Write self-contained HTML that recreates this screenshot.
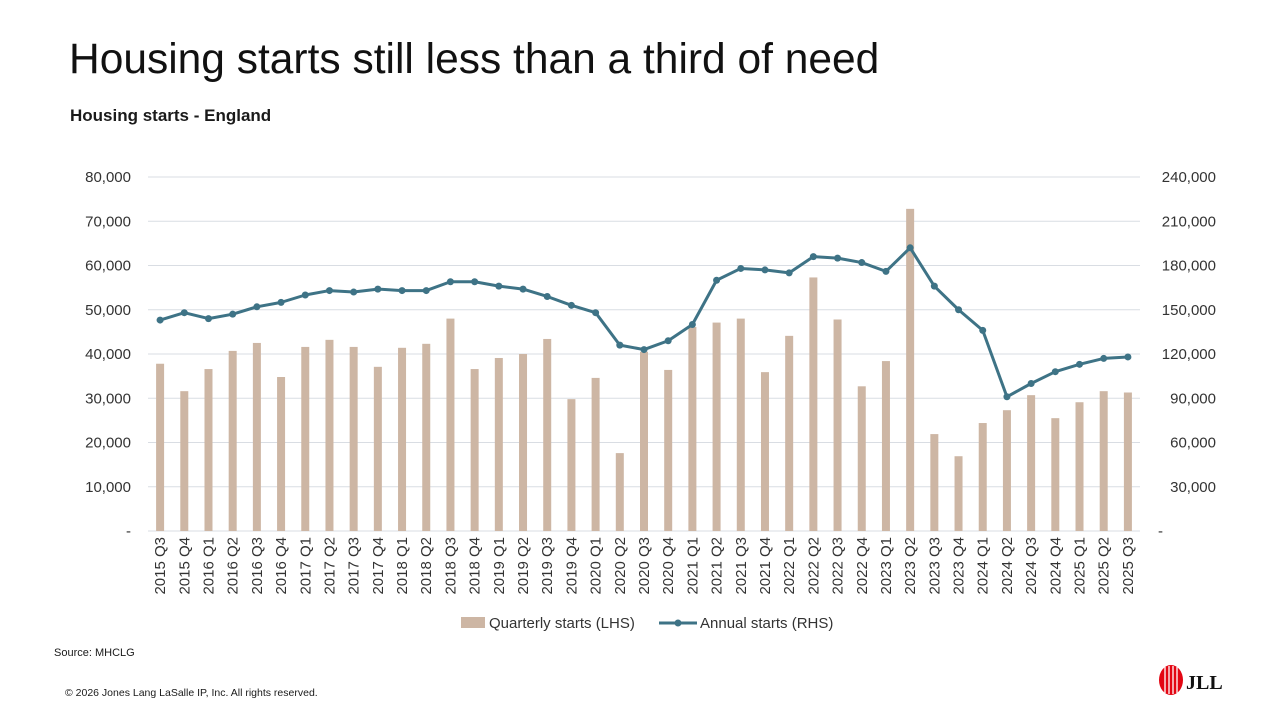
<!DOCTYPE html>
<html><head><meta charset="utf-8"><style>
body{margin:0;width:1280px;height:720px;background:#fff;font-family:"Liberation Sans",Arial,sans-serif;overflow:hidden;position:relative}
.t{position:absolute;color:#1a1a1a}
</style></head><body>
<div class="t" style="left:69px;top:36px;font-size:42.5px;color:#111">Housing starts still less than a third of need</div>
<div class="t" style="left:70px;top:106px;font-size:17px;font-weight:bold">Housing starts - England</div>
<div class="t" style="left:54px;top:647px;font-size:11px">Source: MHCLG</div>
<div class="t" style="left:65px;top:687px;font-size:10.5px">© 2026 Jones Lang LaSalle IP, Inc. All rights reserved.</div>
<div style="position:absolute;left:1156px;top:664px;width:70px;height:32px">
<svg width="70" height="32"><ellipse cx="15" cy="16" rx="12" ry="15" fill="#e30613"/><g stroke="#fff" stroke-width="1.3" fill="none"><path d="M9 3 V29"/><path d="M13 2 V30"/><path d="M17 2 V30"/><path d="M21 3 V29"/></g><text x="30" y="25" font-family="Liberation Serif,serif" font-weight="bold" font-size="20" fill="#111">JLL</text></svg></div>
<svg id="chart" width="1280" height="720" style="position:absolute;left:0;top:0"></svg>
<script>
const categories=["2015 Q3","2015 Q4","2016 Q1","2016 Q2","2016 Q3","2016 Q4","2017 Q1","2017 Q2","2017 Q3","2017 Q4","2018 Q1","2018 Q2","2018 Q3","2018 Q4","2019 Q1","2019 Q2","2019 Q3","2019 Q4","2020 Q1","2020 Q2","2020 Q3","2020 Q4","2021 Q1","2021 Q2","2021 Q3","2021 Q4","2022 Q1","2022 Q2","2022 Q3","2022 Q4","2023 Q1","2023 Q2","2023 Q3","2023 Q4","2024 Q1","2024 Q2","2024 Q3","2024 Q4","2025 Q1","2025 Q2","2025 Q3"];
const quarterly=[37800,31600,36600,40700,42500,34800,41600,43200,41600,37100,41400,42300,48000,36600,39100,40000,43400,29800,34600,17600,40500,36400,46100,47100,48000,35900,44100,57300,47800,32700,38400,72800,21900,16900,24400,27300,30700,25500,29100,31600,31300];
const annual=[143000,148000,144000,147000,152000,155000,160000,163000,162000,164000,163000,163000,169000,169000,166000,164000,159000,153000,148000,126000,123000,129000,140000,170000,178000,177000,175000,186000,185000,182000,176000,192000,166000,150000,136000,91000,100000,108000,113000,117000,118000];
const leftTicks=[0,10000,20000,30000,40000,50000,60000,70000,80000];
const rightTicks=[0,30000,60000,90000,120000,150000,180000,210000,240000];
const svg=document.getElementById('chart');const NS='http://www.w3.org/2000/svg';
const X0=148,X1=1140,Y0=531,Y1=177;
const step=(X1-X0)/categories.length;
const xc=i=>X0+step*(i+0.5);
const yL=v=>Y0-(v/80000)*(Y0-Y1);
const yR=v=>Y0-(v/240000)*(Y0-Y1);
function mk(tag,attrs){const e=document.createElementNS(NS,tag);for(const k in attrs)e.setAttribute(k,attrs[k]);svg.appendChild(e);return e;}
const fmt=v=>v===0?'-':v.toLocaleString('en-US');
leftTicks.forEach(v=>{
 const l=mk('line',{x1:X0,x2:X1,y1:yL(v),y2:yL(v),stroke:'#d9dde3','stroke-width':1});
 
 
 const t=mk('text',{x:131,y:yL(v)+5,'text-anchor':'end','font-size':15,fill:'#333','font-family':'Liberation Sans,sans-serif'});t.textContent=fmt(v);
 
 
});
rightTicks.forEach(v=>{
 const t=mk('text',{x:1216,y:yR(v)+5,'text-anchor':'end','font-size':15,fill:'#333','font-family':'Liberation Sans,sans-serif'});t.textContent=fmt(v);
 if(v===0){t.setAttribute('text-anchor','start');t.setAttribute('x',1158);}
 
 
});
quarterly.forEach((v,i)=>{
 const r=mk('rect',{x:xc(i)-4,y:yL(v),width:8,height:Y0-yL(v),fill:'#cdb6a4'});
 
 
});
const p=mk('polyline',{points:annual.map((v,i)=>xc(i)+','+yR(v)).join(' '),fill:'none',stroke:'#3e7386','stroke-width':3,'stroke-linejoin':'round'});


annual.forEach((v,i)=>{
 const c=mk('circle',{cx:xc(i),cy:yR(v),r:3.5,fill:'#3e7386'});
 
 
});
categories.forEach((c,i)=>{
 const t=mk('text',{transform:`translate(${xc(i)+5},537) rotate(-90)`,'text-anchor':'end','font-size':15,fill:'#333','font-family':'Liberation Sans,sans-serif'});t.textContent=c;
 
 
});
const lb=mk('rect',{x:461,y:617,width:24,height:11,fill:'#cdb6a4'});


const lt1=mk('text',{x:489,y:628,'font-size':15,fill:'#333','font-family':'Liberation Sans,sans-serif'});lt1.textContent='Quarterly starts (LHS)';


const ll=mk('line',{x1:659,x2:697,y1:623,y2:623,stroke:'#3e7386','stroke-width':3});


const lc=mk('circle',{cx:678,cy:623,r:3.5,fill:'#3e7386'});


const lt2=mk('text',{x:700,y:628,'font-size':15,fill:'#333','font-family':'Liberation Sans,sans-serif'});lt2.textContent='Annual starts (RHS)';


</script>
</body></html>
